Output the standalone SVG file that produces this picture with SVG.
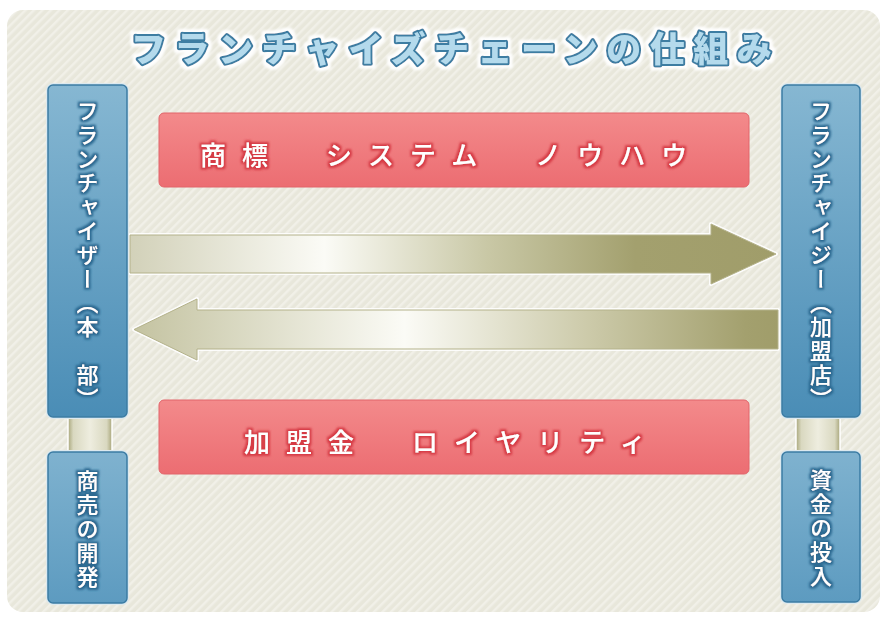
<svg xmlns="http://www.w3.org/2000/svg" width="886" height="617" viewBox="0 0 886 617">
<style>
  .vt { font-family: "Noto Sans CJK JP", "Noto Sans", sans-serif; font-size: 22px; font-weight: 500; fill: #ffffff; writing-mode: vertical-rl; letter-spacing: 2px; text-anchor: middle; }
  .pt { font-family: "Noto Sans CJK JP", "Noto Sans", sans-serif; font-size: 26px; font-weight: 500; fill: #ffffff; letter-spacing: 16px; dominant-baseline: central; }
  .title { font-family: "Noto Sans CJK JP", "Noto Sans", sans-serif; font-size: 35px; font-weight: 900; fill: #b4daec; stroke: #3e7da2; stroke-width: 4px; stroke-linejoin: round; paint-order: stroke; letter-spacing: 8.5px; dominant-baseline: central; }
  .bluebox { fill: url(#gBlue); stroke: #3b7ca4; stroke-width: 1.5; }
  .bluehalo { fill: none; stroke: #dce9ef; stroke-width: 4; }
  .pinkbox { fill: url(#gPink); stroke: #e2646a; stroke-width: 1; }
  .halo { fill: #ffffff; stroke: #ffffff; stroke-width: 4; stroke-linejoin: round; opacity: 0.9; }
  .edge { stroke: #b4b28a; stroke-width: 1; stroke-linejoin: round; }
</style>
<defs>
  <pattern id="stripes" patternUnits="userSpaceOnUse" width="6" height="6" patternTransform="rotate(45)">
    <rect width="6" height="6" fill="#e8e7db"/>
    <rect width="2.5" height="6" fill="#f1f0e8"/>
  </pattern>
  <linearGradient id="gBlue" x1="0" y1="0" x2="0" y2="1">
    <stop offset="0" stop-color="#86b7d2"/>
    <stop offset="1" stop-color="#4a8db6"/>
  </linearGradient>
  <linearGradient id="gBlue2" x1="0" y1="0" x2="0" y2="1">
    <stop offset="0" stop-color="#7fb2cf"/>
    <stop offset="1" stop-color="#5d9bc0"/>
  </linearGradient>
  <linearGradient id="gPink" x1="0" y1="0" x2="0" y2="1">
    <stop offset="0" stop-color="#f38a8b"/>
    <stop offset="1" stop-color="#ec6d72"/>
  </linearGradient>
  <linearGradient id="gArrowR" gradientUnits="userSpaceOnUse" x1="130" y1="0" x2="778" y2="0">
    <stop offset="0" stop-color="#d2d1b9"/>
    <stop offset="0.3" stop-color="#fbfbf6"/>
    <stop offset="0.55" stop-color="#c9c8a6"/>
    <stop offset="0.78" stop-color="#a3a06e"/>
    <stop offset="1" stop-color="#a09d6a"/>
  </linearGradient>
  <linearGradient id="gArrowL" gradientUnits="userSpaceOnUse" x1="134" y1="0" x2="778" y2="0">
    <stop offset="0" stop-color="#c4c3a1"/>
    <stop offset="0.42" stop-color="#fbfbf6"/>
    <stop offset="0.7" stop-color="#cdcbab"/>
    <stop offset="0.95" stop-color="#a3a06e"/>
    <stop offset="1" stop-color="#a09d6a"/>
  </linearGradient>
  <linearGradient id="gBar" x1="0" y1="0" x2="1" y2="0">
    <stop offset="0" stop-color="#a8a67a"/>
    <stop offset="0.12" stop-color="#d9d8c0"/>
    <stop offset="0.5" stop-color="#eeeddf"/>
    <stop offset="0.88" stop-color="#d9d8c0"/>
    <stop offset="1" stop-color="#a8a67a"/>
  </linearGradient>
  <filter id="glowBlue" x="-30%" y="-10%" width="160%" height="120%">
    <feMorphology in="SourceAlpha" operator="dilate" radius="1.6" result="d"/>
    <feGaussianBlur in="d" stdDeviation="1.1" result="b"/>
    <feFlood flood-color="#2a6890" flood-opacity="1"/>
    <feComposite in2="b" operator="in" result="g"/>
    <feMerge><feMergeNode in="g"/><feMergeNode in="SourceGraphic"/></feMerge>
  </filter>
  <filter id="glowRed" x="-10%" y="-30%" width="120%" height="160%">
    <feMorphology in="SourceAlpha" operator="dilate" radius="1.8" result="d"/>
    <feGaussianBlur in="d" stdDeviation="1.3" result="b"/>
    <feFlood flood-color="#d63a44" flood-opacity="1"/>
    <feComposite in2="b" operator="in" result="g"/>
    <feMerge><feMergeNode in="g"/><feMergeNode in="SourceGraphic"/></feMerge>
  </filter>
  <filter id="glowTitle" x="-10%" y="-40%" width="120%" height="180%">
    <feMorphology in="SourceAlpha" operator="dilate" radius="3" result="d"/>
    <feGaussianBlur in="d" stdDeviation="0.8" result="b"/>
    <feFlood flood-color="#ffffff" flood-opacity="0.95"/>
    <feComposite in2="b" operator="in" result="g"/>
    <feMerge><feMergeNode in="g"/><feMergeNode in="SourceGraphic"/></feMerge>
  </filter>
</defs>

<rect x="0" y="0" width="886" height="617" fill="#ffffff"/>
<rect x="7" y="10" width="873" height="602" rx="16" fill="url(#stripes)"/>

<g id="title">
  <text class="title" x="131" y="46" filter="url(#glowTitle)">フランチャイズチェーンの仕組み</text>
</g>

<g id="connectors">
  <path class="halo" d="M130,235 H711 V224 L776,254 L711,284 V273 H130 Z"/>
  <path class="edge" fill="url(#gArrowR)" d="M130,235 H711 V224 L776,254 L711,284 V273 H130 Z"/>
  <path class="halo" d="M778,310 H197 V299 L134,329.5 L197,360 V349 H778 Z"/>
  <path class="edge" fill="url(#gArrowL)" d="M778,310 H197 V299 L134,329.5 L197,360 V349 H778 Z"/>
  <rect x="68" y="417" width="44" height="35" fill="url(#gBar)" stroke="#ffffff" stroke-width="1.5"/>
  <rect x="796" y="417" width="44" height="35" fill="url(#gBar)" stroke="#ffffff" stroke-width="1.5"/>
</g>

<g id="franchisor">
  <rect class="bluehalo" x="48" y="85" width="79" height="332" rx="5"/>
  <rect class="bluebox" x="48" y="85" width="79" height="332" rx="5"/>
  <text class="vt" x="87.5" y="256" filter="url(#glowBlue)">フランチャイザー（本　部）</text>
</g>

<g id="franchisee">
  <rect class="bluehalo" x="782" y="85" width="78" height="332" rx="5"/>
  <rect class="bluebox" x="782" y="85" width="78" height="332" rx="5"/>
  <text class="vt" x="821" y="256" filter="url(#glowBlue)">フランチャイジー（加盟店）</text>
</g>

<g id="dev">
  <rect class="bluehalo" x="48" y="452" width="79" height="151" rx="5"/>
  <rect class="bluebox" x="48" y="452" width="79" height="151" rx="5" style="fill:url(#gBlue2)"/>
  <text class="vt" x="87.5" y="530" filter="url(#glowBlue)">商売の開発</text>
</g>

<g id="invest">
  <rect class="bluehalo" x="782" y="452" width="78" height="150" rx="5"/>
  <rect class="bluebox" x="782" y="452" width="78" height="150" rx="5" style="fill:url(#gBlue2)"/>
  <text class="vt" x="821" y="529" filter="url(#glowBlue)">資金の投入</text>
</g>

<g id="brand">
  <rect class="pinkbox" x="159" y="113" width="590" height="74" rx="5"/>
  <text class="pt" x="200" y="153" filter="url(#glowRed)">商標　システム　ノウハウ</text>
</g>

<g id="fee">
  <rect class="pinkbox" x="159" y="400" width="590" height="74" rx="5"/>
  <text class="pt" x="244" y="440" filter="url(#glowRed)">加盟金　ロイヤリティ</text>
</g>
</svg>
